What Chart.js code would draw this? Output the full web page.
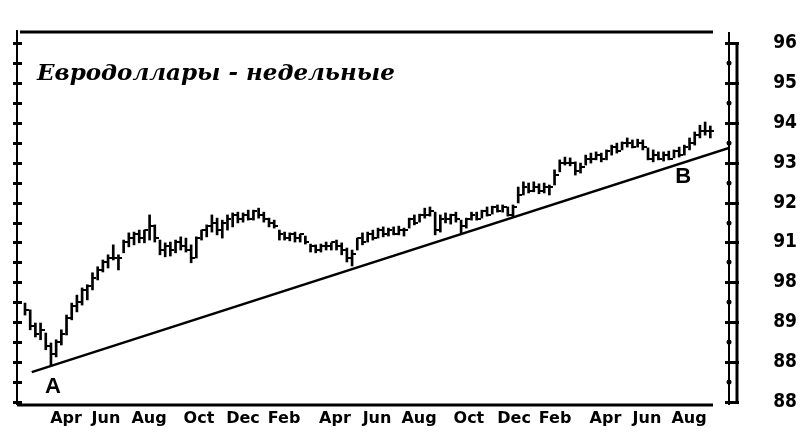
<!DOCTYPE html>
<html>
<head>
<meta charset="utf-8">
<script src="https://cdn.jsdelivr.net/npm/chart.js@4.4.0/dist/chart.umd.min.js"></script>
<style>
  body { margin: 0; background: #fff; }
</style>
</head>
<body>
<canvas id="myChart" width="803" height="441"></canvas>
<script>
  // weekly eurodollar bars, one entry per week (x = week number)
  var highs = [
    89.48, 89.31, 88.98, 88.98, 88.73, 88.48, 88.56, 88.81, 89.18, 89.48,
    89.68, 89.86, 89.94, 90.24, 90.39, 90.56, 90.69, 90.94, 90.69, 91.06,
    91.24, 91.26, 91.31, 91.31, 91.69, 91.44, 91.06, 90.99, 91.01, 91.06,
    91.14, 91.11, 90.94, 91.14, 91.31, 91.44, 91.69, 91.61, 91.56, 91.69,
    91.74, 91.76, 91.74, 91.81, 91.81, 91.86, 91.76, 91.61, 91.56, 91.31,
    91.26, 91.24, 91.26, 91.21, 91.16, 90.96, 90.94, 90.96, 91.01, 90.99,
    91.06, 90.99, 90.86, 90.81, 91.11, 91.24, 91.26, 91.31, 91.36, 91.39,
    91.36, 91.39, 91.41, 91.36, 91.61, 91.69, 91.71, 91.86, 91.89, 91.76,
    91.69, 91.74, 91.71, 91.76, 91.56, 91.61, 91.76, 91.76, 91.81, 91.89,
    91.91, 91.94, 91.94, 91.89, 91.94, 92.39, 92.52, 92.49, 92.52, 92.47,
    92.49, 92.44, 92.82, 93.07, 93.14, 93.12, 93.02, 92.99, 93.19, 93.24,
    93.27, 93.24, 93.32, 93.44, 93.49, 93.52, 93.62, 93.57, 93.59, 93.57,
    93.37, 93.32, 93.27, 93.27, 93.29, 93.32, 93.39, 93.44, 93.62, 93.77,
    93.94, 94.02, 93.92
  ];
  var lows = [
    89.18, 88.81, 88.63, 88.56, 88.31, 87.93, 88.13, 88.43, 88.68, 89.06,
    89.26, 89.43, 89.56, 89.81, 90.06, 90.26, 90.36, 90.56, 90.31, 90.74,
    90.89, 90.94, 90.99, 90.99, 91.06, 91.01, 90.69, 90.64, 90.66, 90.74,
    90.81, 90.76, 90.49, 90.61, 91.06, 91.14, 91.26, 91.19, 91.11, 91.31,
    91.39, 91.49, 91.51, 91.56, 91.56, 91.61, 91.51, 91.39, 91.36, 91.06,
    91.06, 91.04, 91.01, 91.01, 90.96, 90.76, 90.74, 90.76, 90.81, 90.81,
    90.81, 90.69, 90.51, 90.41, 90.81, 90.94, 91.01, 91.06, 91.11, 91.14,
    91.16, 91.19, 91.19, 91.16, 91.36, 91.44, 91.51, 91.61, 91.66, 91.19,
    91.26, 91.49, 91.46, 91.51, 91.24, 91.36, 91.56, 91.56, 91.61, 91.66,
    91.71, 91.76, 91.76, 91.66, 91.64, 91.99, 92.19, 92.24, 92.27, 92.22,
    92.24, 92.19, 92.44, 92.77, 92.94, 92.92, 92.69, 92.74, 92.94, 92.99,
    93.07, 93.02, 93.07, 93.19, 93.24, 93.32, 93.39, 93.37, 93.39, 93.32,
    93.07, 93.02, 93.07, 93.04, 93.07, 93.12, 93.14, 93.19, 93.32, 93.44,
    93.62, 93.69, 93.62
  ];
  var closes = [
    89.30, 88.90, 88.70, 88.80, 88.40, 88.20, 88.50, 88.70, 89.10, 89.40,
    89.50, 89.80, 89.90, 90.10, 90.30, 90.50, 90.60, 90.60, 90.60, 91.00,
    91.10, 91.20, 91.10, 91.30, 91.40, 91.10, 90.80, 90.90, 90.80, 91.00,
    90.90, 90.80, 90.60, 91.10, 91.30, 91.40, 91.50, 91.30, 91.50, 91.60,
    91.70, 91.60, 91.70, 91.60, 91.80, 91.70, 91.60, 91.50, 91.40, 91.20,
    91.10, 91.20, 91.10, 91.20, 91.00, 90.90, 90.80, 90.90, 90.90, 91.00,
    90.90, 90.80, 90.60, 90.70, 91.10, 91.00, 91.20, 91.10, 91.30, 91.20,
    91.30, 91.20, 91.30, 91.30, 91.60, 91.50, 91.70, 91.70, 91.80, 91.30,
    91.60, 91.60, 91.70, 91.60, 91.40, 91.60, 91.70, 91.60, 91.80, 91.70,
    91.90, 91.80, 91.90, 91.70, 91.90, 92.20, 92.40, 92.30, 92.40, 92.30,
    92.40, 92.40, 92.70, 93.00, 93.00, 93.00, 92.80, 92.90, 93.10, 93.10,
    93.20, 93.10, 93.30, 93.40, 93.30, 93.50, 93.50, 93.40, 93.50, 93.40,
    93.10, 93.20, 93.10, 93.20, 93.10, 93.30, 93.20, 93.40, 93.50, 93.70,
    93.80, 93.80, 93.80
  ];

  // month labels and the week they fall on
  var monthLabels = ['Apr', 'Jun', 'Aug', 'Oct', 'Dec', 'Feb', 'Apr', 'Jun', 'Aug', 'Oct', 'Dec', 'Feb', 'Apr', 'Jun', 'Aug'];
  var monthWeeks = [7.9, 15.6, 23.9, 33.5, 42.0, 49.9, 59.7, 67.8, 75.9, 85.5, 94.2, 102.1, 111.8, 119.8, 127.9];

  // price axis, as printed
  var priceTicks = [96, 95, 94, 93, 92, 91, 90, 89, 88, 87];
  var priceLabels = ['96', '95', '94', '93', '92', '91', '98', '89', '88', '88'];

  // trend line A-B
  var trendLine = [{ x: 1.3, y: 87.75 }, { x: 135.6, y: 93.37 }];
  var pointLabels = [{ text: 'A', x: 5.4, y: 87.38 }, { text: 'B', x: 126.8, y: 92.64 }];
  var titleText = 'Евродоллары - недельные';

  // close tick: small stub to the right of the bar
  var closeTick = document.createElement('canvas');
  closeTick.width = 8;
  closeTick.height = 2;
  var tctx = closeTick.getContext('2d');
  tctx.fillStyle = '#000';
  tctx.fillRect(4, 0, 4, 2);

  var decor = {
    id: 'decor',
    afterDraw: function (chart) {
      var ctx = chart.ctx, a = chart.chartArea, x = chart.scales.x, y = chart.scales.y;
      function line(x1, y1, x2, y2) {
        ctx.beginPath(); ctx.moveTo(x1, y1); ctx.lineTo(x2, y2); ctx.stroke();
      }
      ctx.save();
      ctx.strokeStyle = '#000';
      ctx.fillStyle = '#000';
      // frame
      ctx.lineWidth = 3;
      line(a.left + 3, a.top, a.right - 16, a.top);
      line(a.left, a.bottom, a.right - 16, a.bottom);
      ctx.lineWidth = 2;
      line(a.left, a.top - 2, a.left, a.bottom);
      line(a.right, a.top, a.right, a.bottom);
      ctx.lineWidth = 3;
      line(a.right + 8, y.getPixelForValue(96), a.right + 8, y.getPixelForValue(87));
      // axis tick marks every half point
      for (var v = 87; v <= 96; v += 0.5) {
        var py = Math.round(y.getPixelForValue(v));
        ctx.fillRect(a.left - 4, py - 1, 9, 3);
        if (v % 1 === 0) {
          ctx.fillRect(a.right - 4, py - 1, 14, 3);
        } else {
          ctx.beginPath(); ctx.arc(a.right, py, 2.5, 0, Math.PI * 2); ctx.fill();
        }
      }
      // title
      ctx.font = 'italic bold 23px "DejaVu Serif"';
      ctx.textBaseline = 'alphabetic';
      ctx.textAlign = 'left';
      ctx.fillText(titleText, a.left + 20, a.top + 48);
      // A / B
      ctx.font = 'bold 22px "Liberation Sans"';
      ctx.textAlign = 'center';
      ctx.textBaseline = 'middle';
      pointLabels.forEach(function (p) {
        ctx.fillText(p.text, x.getPixelForValue(p.x), y.getPixelForValue(p.y));
      });
      ctx.restore();
    }
  };

  var ctx = document.getElementById('myChart');
  new Chart(ctx, {
    type: 'bar',
    data: {
      datasets: [
        {
          type: 'bar',
          data: highs.map(function (h, i) { return { x: i, y: [lows[i], h] }; }),
          backgroundColor: '#000',
          barThickness: 2,
          order: 2
        },
        {
          type: 'scatter',
          data: closes.map(function (c, i) { return { x: i, y: c }; }),
          pointStyle: closeTick,
          order: 1
        },
        {
          type: 'line',
          data: trendLine,
          borderColor: '#000',
          borderWidth: 2.5,
          pointRadius: 0,
          order: 0
        }
      ]
    },
    options: {
      responsive: false,
      animation: false,
      devicePixelRatio: 1,
      layout: { padding: { left: 17, top: 32, right: 6, bottom: 0 } },
      plugins: {
        legend: { display: false },
        tooltip: { enabled: false }
      },
      scales: {
        x: {
          type: 'linear',
          offset: false,
          min: -1.54,
          max: 135.6,
          grid: { display: false, drawTicks: false, offset: false },
          border: { display: false },
          afterBuildTicks: function (s) {
            s.ticks = monthWeeks.map(function (w) { return { value: w }; });
          },
          afterFit: function (s) { s.height = 36; },
          ticks: {
            autoSkip: false,
            maxRotation: 0,
            padding: 4,
            color: '#000',
            font: { family: 'DejaVu Sans', weight: 'bold', size: 16 },
            callback: function (value, index) { return monthLabels[index]; }
          }
        },
        y: {
          type: 'linear',
          position: 'right',
          min: 86.925,
          max: 96.276,
          grid: { display: false, drawTicks: false },
          border: { display: false },
          afterBuildTicks: function (s) {
            s.ticks = priceTicks.map(function (p) { return { value: p }; });
          },
          afterFit: function (s) { s.width = 68; },
          ticks: {
            padding: 0,
            crossAlign: 'far',
            color: '#000',
            font: { family: "'Liberation Sans Narrow', 'DejaVu Sans Condensed', sans-serif", weight: 'bold', size: 19 },
            callback: function (value, index) { return priceLabels[index]; }
          }
        }
      }
    },
    plugins: [decor]
  });
</script>
</body>
</html>
